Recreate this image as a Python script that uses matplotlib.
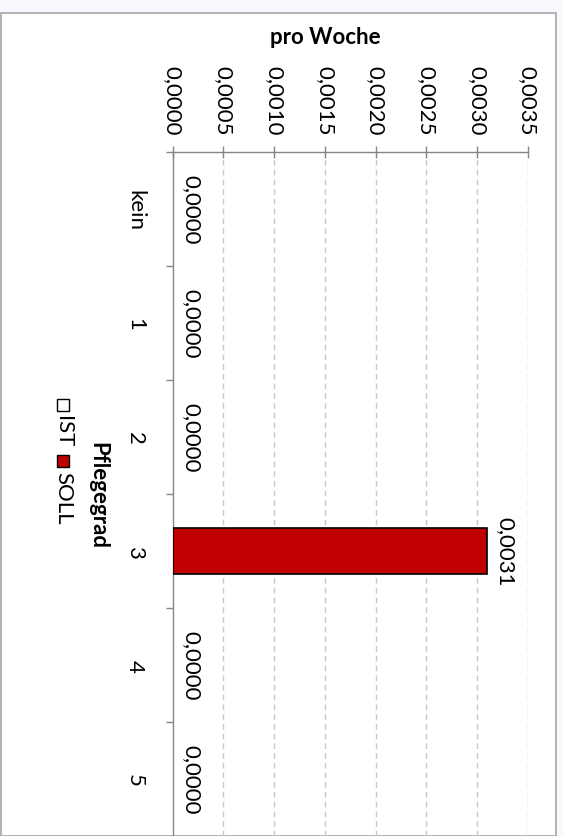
import matplotlib
matplotlib.use("Agg")
import matplotlib.pyplot as plt
from matplotlib.patches import Rectangle

plt.rcParams['font.family'] = ['Lato', 'DejaVu Sans']

kategorien = ['kein', '1', '2', '3', '4', '5']
ist = [0, 0, 0, 0, 0, 0]
soll = [0, 0, 0, 0.0031, 0, 0]
wert_ticks = [0, 0.0005, 0.0010, 0.0015, 0.0020, 0.0025, 0.0030, 0.0035]

W, H = 563, 837
fig = plt.figure(figsize=(W / 100, H / 100), dpi=100)
fig.patch.set_facecolor('#F8F9FE')

# weisser Diagrammbereich mit grauem Rahmen
fig.patches.append(Rectangle((0.5 / W, 0), 555.5 / W, 1 - 14 / H, transform=fig.transFigure,
                             facecolor='white', edgecolor='#A6A6A6', lw=1.2, zorder=-5))

ax = fig.add_axes([172.7 / W, 0, 355 / W, 1 - 153 / H])
ax.set_facecolor('none')
ax.set_zorder(2)

pos = list(range(len(kategorien)))
# Balken mit Wert 0 ohne Rand, sonst entsteht eine Linie an der Achse
ax.barh(pos, ist, height=0.4, color='white', edgecolor='black',
        lw=[1 if v else 0 for v in ist], zorder=3)
ax.barh(pos, soll, height=0.4, color='#C00000', edgecolor='black',
        lw=[1.2 if v else 0 for v in soll], zorder=3)

ax.set_xlim(0, 0.0035)
ax.set_ylim(5.5, -0.5)

ax.xaxis.tick_top()
ax.set_xticks(wert_ticks)
ax.set_xticklabels([f"{t:.4f}".replace('.', ',') for t in wert_ticks], rotation=-90, fontsize=16)
ax.tick_params(axis='x', direction='inout', length=9, width=1, color='#868686', pad=8)

ax.set_yticks(pos)
ax.set_yticklabels(kategorien, rotation=-90, fontsize=16, va='center')
ax.tick_params(axis='y', which='major', length=0, pad=20)
ax.set_yticks([p - 0.5 for p in pos] + [5.5], minor=True)
ax.tick_params(axis='y', which='minor', length=5, width=1, color='#868686', direction='out')

for s in ['right', 'bottom']:
    ax.spines[s].set_visible(False)
for s in ['top', 'left']:
    ax.spines[s].set_color('#868686')
    ax.spines[s].set_linewidth(1)

for t in wert_ticks[1:]:
    ax.axvline(t, color='#C8C8C8', lw=1, dashes=(4, 3), zorder=1)

for p, v in zip(pos, soll):
    ax.annotate(f"{v:.4f}".replace('.', ','), (v, p), xytext=(6, 0), textcoords='offset points',
                rotation=-90, ha='left', va='center', fontsize=16)

fig.text(325 / W, 1 - 38 / H, 'pro Woche', ha='center', va='center', fontsize=16, fontweight='bold')
fig.text(98 / W, 1 - 496 / H, 'Pflegegrad', ha='center', va='center', rotation=-90,
         fontsize=16, fontweight='bold')

# Legende (gedreht)
lx = 63
fig.patches.append(Rectangle(((lx - 6) / W, 1 - 412 / H), 12 / W, 12 / H, transform=fig.transFigure,
                             facecolor='white', edgecolor='black', lw=1))
fig.text(lx / W, 1 - 416 / H, 'IST', ha='center', va='top', rotation=-90, fontsize=16)
fig.patches.append(Rectangle(((lx - 6) / W, 1 - 468 / H), 12 / W, 12 / H, transform=fig.transFigure,
                             facecolor='#C00000', edgecolor='black', lw=1))
fig.text(lx / W, 1 - 472 / H, 'SOLL', ha='center', va='top', rotation=-90, fontsize=16)

fig.savefig('out.png', dpi=100, facecolor=fig.get_facecolor())
